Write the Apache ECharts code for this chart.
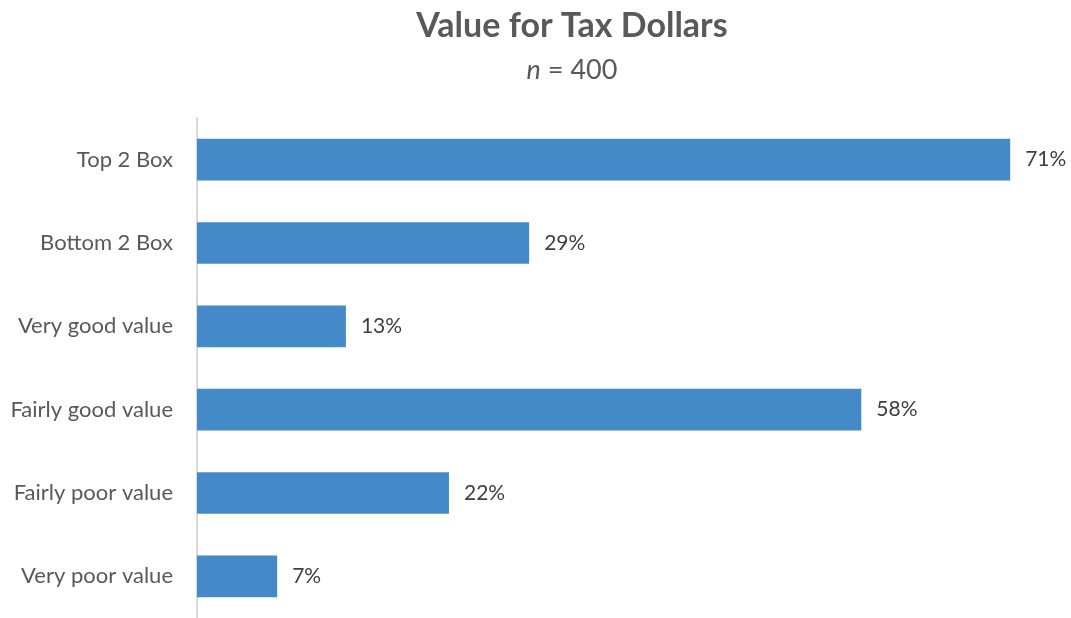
<!DOCTYPE html>
<html>
<head>
<meta charset="utf-8">
<script src="https://cdn.jsdelivr.net/npm/echarts@6/dist/echarts.min.js"></script>
<style>
  html, body { margin: 0; padding: 0; background: #ffffff; }
  #chart { width: 1071px; height: 618px; }
</style>
</head>
<body>
<div id="chart"></div>
<script>
// Survey responses, top row first
const categories = ['Top 2 Box', 'Bottom 2 Box', 'Very good value', 'Fairly good value', 'Fairly poor value', 'Very poor value'];
const shares = [71, 29, 13, 58, 22, 7];
const sampleSize = 400;

const FONT = 'Lato, "Open Sans", sans-serif';
const chart = echarts.init(document.getElementById('chart'));

chart.setOption({
  backgroundColor: '#ffffff',
  animation: false,
  title: {
    text: 'Value for Tax Dollars',
    subtext: '{i|n} = ' + sampleSize,
    left: 567,
    textAlign: 'center',
    top: 4,
    itemGap: 14,
    textStyle: { fontFamily: FONT, fontSize: 34, fontWeight: 'bold', color: '#595959' },
    subtextStyle: {
      fontFamily: FONT, fontSize: 27, color: '#595959',
      rich: { i: { fontFamily: FONT, fontSize: 27, fontStyle: 'italic', color: '#595959' } }
    }
  },
  grid: { left: 197, top: 118, width: 859, height: 504, containLabel: false },
  xAxis: {
    type: 'value', min: 0, max: 75,
    show: false
  },
  yAxis: {
    type: 'category',
    data: categories,
    inverse: true,
    axisLine: { show: true, lineStyle: { color: '#d9d9d9', width: 2 } },
    axisTick: { show: false },
    axisLabel: { fontFamily: FONT, fontSize: 22, color: '#595959', margin: 24 }
  },
  series: [{
    type: 'bar',
    data: shares,
    barWidth: '50%',
    itemStyle: { color: '#458ac8' },
    label: {
      show: true, position: 'right', distance: 15,
      formatter: p => p.value + '%',
      fontFamily: FONT, fontSize: 21, color: '#404040'
    }
  }]
});
</script>
</body>
</html>
